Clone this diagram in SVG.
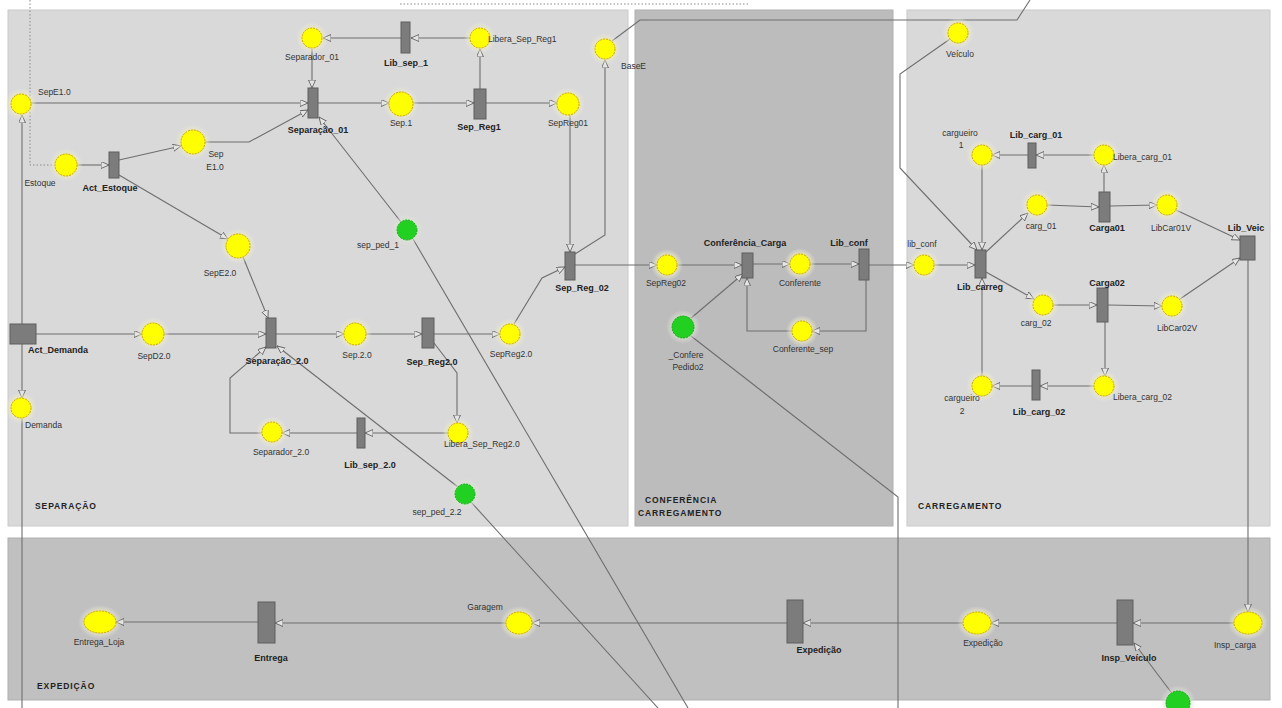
<svg xmlns="http://www.w3.org/2000/svg" width="1282" height="708" viewBox="0 0 1282 708">
  <style>
    .panel-l { fill: #d9d9d9; stroke: #cacaca; stroke-width: 1; }
    .panel-d { fill: #bcbcbc; stroke: #b0b0b0; stroke-width: 1; }
    .arc { fill: none; stroke: #6e6e6e; stroke-width: 1.1; }
    .arc-a { fill: none; stroke: #6e6e6e; stroke-width: 1.1; marker-end: url(#tip); }
    .dot { fill: none; stroke: #8a8a8a; stroke-width: 1; stroke-dasharray: 1.5 2; }
    .halo { fill: url(#glowY); }
    .haloG { fill: url(#glowG); }
    .place { fill: #ffff00; stroke: #c9a400; stroke-width: 1; stroke-dasharray: 2 1; }
    .token { fill: #22d022; stroke: #17a317; stroke-width: 1; stroke-dasharray: 2 1; }
    .trans { fill: #7c7c7c; stroke: #5e5e5e; stroke-width: 1; }
    text { font-family: "Liberation Sans", Arial, sans-serif; }
    .pl { font-size: 8.5px; fill: #333; text-anchor: middle; }
    .pls { font-size: 8.5px; fill: #333; }
    .tl { font-size: 9px; font-weight: bold; fill: #222; text-anchor: middle; }
    .sec { font-size: 8.5px; font-weight: bold; fill: #222; letter-spacing: 0.9px; }
  </style>
  <defs>
    <radialGradient id="glowY">
      <stop offset="0.55" stop-color="#f5ef9a" stop-opacity="0.95"/>
      <stop offset="1" stop-color="#e6e6f0" stop-opacity="0"/>
    </radialGradient>
    <radialGradient id="glowG">
      <stop offset="0.55" stop-color="#c8f0c0" stop-opacity="0.9"/>
      <stop offset="1" stop-color="#f0d8e8" stop-opacity="0"/>
    </radialGradient>
    <marker id="tip" markerUnits="userSpaceOnUse" markerWidth="9" markerHeight="8" refX="8" refY="3.5" orient="auto">
      <path d="M0,0 L8,3.5 L0,7 Z" fill="#e4e4e4" stroke="#555" stroke-width="0.8"/>
    </marker>
  </defs>

  <rect width="1282" height="708" fill="#ffffff"/>

  <!-- process areas -->
  <g id="areas">
    <rect class="panel-l" x="8" y="10" width="620" height="516"/>
    <rect class="panel-d" x="635" y="10" width="258" height="516"/>
    <rect class="panel-l" x="907" y="10" width="363" height="516"/>
    <rect class="panel-d" x="8" y="538" width="1262" height="162" style="fill:#c0c0c0"/>
    <text class="sec" x="35" y="509">SEPARAÇÃO</text>
    <text class="sec" x="645" y="503">CONFERÊNCIA</text>
    <text class="sec" x="638" y="516">CARREGAMENTO</text>
    <text class="sec" x="918" y="509">CARREGAMENTO</text>
    <text class="sec" x="37" y="689">EXPEDIÇÃO</text>
  </g>

  <!-- arcs -->
  <g id="connectors">
    <path class="dot" d="M400,4 L750,4"/>
    <path class="dot" d="M30,0 L30,165 L55,165"/>
    <path class="arc-a" d="M470,38 L411,38"/>
    <path class="arc-a" d="M401,38 L323,38"/>
    <path class="arc-a" d="M312,49 L312,88"/>
    <path class="arc-a" d="M480,89 L480,49"/>
    <path class="arc-a" d="M31,103 L308,103"/>
    <path class="arc-a" d="M22,324 L22,115"/>
    <path class="arc-a" d="M77,165 L109,165"/>
    <path class="arc-a" d="M119,160 L181,146"/>
    <path class="arc-a" d="M205,142 L249,142 L308,110"/>
    <path class="arc-a" d="M119,175 L228,239"/>
    <path class="arc-a" d="M318,103 L389,103"/>
    <path class="arc-a" d="M413,103 L474,103"/>
    <path class="arc-a" d="M486,103 L557,103"/>
    <path class="arc-a" d="M570,115 L570,252"/>
    <path class="arc-a" d="M401,222 L319,117"/>
    <path class="arc" d="M413,239 L688,708"/>
    <path class="arc-a" d="M575,254 L605,235 L605,60"/>
    <path class="arc" d="M612,41 L640,20 L1017,20 L1030,0"/>
    <path class="arc-a" d="M243,257 L268,318"/>
    <path class="arc-a" d="M36,334 L142,334"/>
    <path class="arc-a" d="M164,334 L266,334"/>
    <path class="arc-a" d="M276,334 L344,334"/>
    <path class="arc-a" d="M366,334 L422,334"/>
    <path class="arc-a" d="M434,334 L500,334"/>
    <path class="arc-a" d="M434,343 L457,373 L457,423"/>
    <path class="arc-a" d="M448,433 L365,433"/>
    <path class="arc-a" d="M357,433 L282,433"/>
    <path class="arc-a" d="M262,433 L230,433 L230,378 L266,347"/>
    <path class="arc-a" d="M458,487 L277,346"/>
    <path class="arc" d="M471,502 L658,708"/>
    <path class="arc-a" d="M514,324 L542,278 L565,267"/>
    <path class="arc-a" d="M575,265 L657,265"/>
    <path class="arc-a" d="M677,265 L742,265"/>
    <path class="arc-a" d="M690,319 L743,274"/>
    <path class="arc" d="M691,336 L898,497 L898,708"/>
    <path class="arc-a" d="M753,264 L790,264"/>
    <path class="arc-a" d="M810,264 L859,264"/>
    <path class="arc-a" d="M866,280 L866,331 L812,331"/>
    <path class="arc-a" d="M792,331 L747,331 L747,278"/>
    <path class="arc-a" d="M869,265 L914,265"/>
    <path class="arc-a" d="M934,265 L975,265"/>
    <path class="arc-a" d="M950,39 L900,74 L900,168 L977,250"/>
    <path class="arc-a" d="M982,165 L982,250"/>
    <path class="arc-a" d="M982,376 L982,278"/>
    <path class="arc-a" d="M986,252 L1028,213"/>
    <path class="arc-a" d="M986,272 L1034,299"/>
    <path class="arc-a" d="M1094,155 L1036,155"/>
    <path class="arc-a" d="M1028,155 L992,155"/>
    <path class="arc-a" d="M1104,192 L1104,165"/>
    <path class="arc-a" d="M1047,205 L1099,207"/>
    <path class="arc-a" d="M1110,206 L1157,205"/>
    <path class="arc-a" d="M1176,210 L1240,240"/>
    <path class="arc-a" d="M1053,305 L1097,305"/>
    <path class="arc-a" d="M1108,305 L1162,306"/>
    <path class="arc-a" d="M1180,299 L1240,258"/>
    <path class="arc-a" d="M1105,322 L1105,376"/>
    <path class="arc-a" d="M1094,386 L1040,386"/>
    <path class="arc-a" d="M1032,386 L992,386"/>
    <path class="arc-a" d="M1248,260 L1248,612"/>
    <path class="arc-a" d="M1234,623 L1133,623"/>
    <path class="arc-a" d="M1171,692 L1134,643"/>
    <path class="arc-a" d="M1117,623 L991,623"/>
    <path class="arc-a" d="M963,623 L803,623"/>
    <path class="arc-a" d="M787,623 L532,623"/>
    <path class="arc-a" d="M506,623 L275,623"/>
    <path class="arc-a" d="M258,622 L116,622"/>
    <path class="arc-a" d="M22,344 L22,398"/>
    <path class="arc" d="M22,418 L22,708"/>
  </g>

  <!-- SEPARAÇÃO -->
  <g id="Separador_01"><circle class="halo" cx="312" cy="38" r="16"/><circle class="place" cx="312" cy="38" r="10"/><text class="pl" x="312" y="60">Separador_01</text></g>
  <g id="Lib_sep_1"><rect class="trans" x="401" y="22" width="9" height="31"/><text class="tl" x="406" y="66">Lib_sep_1</text></g>
  <g id="Libera_Sep_Reg1"><circle class="halo" cx="480" cy="38" r="16"/><circle class="place" cx="480" cy="38" r="10"/><text class="pls" x="488" y="42">Libera_Sep_Reg1</text></g>
  <g id="BaseE"><circle class="halo" cx="605" cy="49" r="16"/><circle class="place" cx="605" cy="49" r="10"/><text class="pls" x="621" y="69">BaseE</text></g>
  <g id="SepE1.0"><circle class="halo" cx="21" cy="104" r="16"/><circle class="place" cx="21" cy="104" r="10"/><text class="pls" x="38" y="95">SepE1.0</text></g>
  <g id="Estoque"><circle class="halo" cx="66" cy="165" r="17"/><circle class="place" cx="66" cy="165" r="11"/><text class="pl" x="40" y="186">Estoque</text></g>
  <g id="Act_Estoque"><rect class="trans" x="109" y="152" width="10" height="26"/><text class="tl" x="110" y="191">Act_Estoque</text></g>
  <g id="Sep_E1.0"><circle class="halo" cx="193" cy="142" r="18"/><circle class="place" cx="193" cy="142" r="12"/><text class="pl" x="216" y="157">Sep</text><text class="pl" x="215" y="170">E1.0</text></g>
  <g id="Separacao_01"><rect class="trans" x="308" y="88" width="10" height="30"/><text class="tl" x="318" y="133">Separação_01</text></g>
  <g id="Sep.1"><circle class="halo" cx="401" cy="104" r="18"/><circle class="place" cx="401" cy="104" r="12"/><text class="pl" x="401" y="126">Sep.1</text></g>
  <g id="Sep_Reg1"><rect class="trans" x="474" y="89" width="12" height="30"/><text class="tl" x="479" y="130">Sep_Reg1</text></g>
  <g id="SepReg01"><circle class="halo" cx="568" cy="104" r="17"/><circle class="place" cx="568" cy="104" r="11"/><text class="pl" x="568" y="126">SepReg01</text></g>
  <g id="sep_ped_1"><circle class="haloG" cx="407" cy="230" r="16"/><circle class="token" cx="407" cy="230" r="10"/><text class="pl" x="378" y="248">sep_ped_1</text></g>
  <g id="Sep_Reg_02"><rect class="trans" x="565" y="252" width="10" height="28"/><text class="tl" x="582" y="291">Sep_Reg_02</text></g>
  <g id="SepE2.0"><circle class="halo" cx="238" cy="246" r="18"/><circle class="place" cx="238" cy="246" r="12"/><text class="pl" x="220" y="276">SepE2.0</text></g>
  <g id="Act_Demanda"><rect class="trans" x="10" y="324" width="26" height="20"/><text class="tl" x="58" y="353">Act_Demanda</text></g>
  <g id="SepD2.0"><circle class="halo" cx="153" cy="334" r="17"/><circle class="place" cx="153" cy="334" r="11"/><text class="pl" x="154" y="359">SepD2.0</text></g>
  <g id="Separacao_2.0"><rect class="trans" x="266" y="318" width="10" height="30"/><text class="tl" x="277" y="364">Separação_2.0</text></g>
  <g id="Sep.2.0"><circle class="halo" cx="355" cy="334" r="17"/><circle class="place" cx="355" cy="334" r="11"/><text class="pl" x="357" y="358">Sep.2.0</text></g>
  <g id="Sep_Reg2.0"><rect class="trans" x="422" y="318" width="12" height="30"/><text class="tl" x="432" y="365">Sep_Reg2.0</text></g>
  <g id="SepReg2.0"><circle class="halo" cx="510" cy="334" r="16"/><circle class="place" cx="510" cy="334" r="10"/><text class="pl" x="511" y="357">SepReg2.0</text></g>
  <g id="Libera_Sep_Reg2.0"><circle class="halo" cx="458" cy="433" r="16"/><circle class="place" cx="458" cy="433" r="10"/><text class="pls" x="444" y="447">Libera_Sep_Reg2.0</text></g>
  <g id="Lib_sep_2.0"><rect class="trans" x="357" y="418" width="8" height="30"/><text class="tl" x="370" y="468">Lib_sep_2.0</text></g>
  <g id="Separador_2.0"><circle class="halo" cx="272" cy="432" r="16"/><circle class="place" cx="272" cy="432" r="10"/><text class="pl" x="281" y="455">Separador_2.0</text></g>
  <g id="Demanda"><circle class="halo" cx="21" cy="408" r="16"/><circle class="place" cx="21" cy="408" r="10"/><text class="pls" x="25" y="428">Demanda</text></g>
  <g id="sep_ped_2.2"><circle class="haloG" cx="465" cy="494" r="16"/><circle class="token" cx="465" cy="494" r="10"/><text class="pl" x="437" y="515">sep_ped_2.2</text></g>

  <!-- CONFERÊNCIA -->
  <g id="SepReg02"><circle class="halo" cx="667" cy="265" r="16"/><circle class="place" cx="667" cy="265" r="10"/><text class="pl" x="666" y="286">SepReg02</text></g>
  <g id="Conferencia_Carga"><rect class="trans" x="742" y="253" width="11" height="25"/><text class="tl" x="745" y="246">Conferência_Carga</text></g>
  <g id="Confere_Pedido2"><circle class="haloG" cx="683" cy="327" r="17"/><circle class="token" cx="683" cy="327" r="11"/><text class="pl" x="686" y="358">_Confere</text><text class="pl" x="688" y="370">Pedido2</text></g>
  <g id="Conferente"><circle class="halo" cx="800" cy="264" r="16"/><circle class="place" cx="800" cy="264" r="10"/><text class="pl" x="800" y="286">Conferente</text></g>
  <g id="Lib_conf"><rect class="trans" x="859" y="249" width="10" height="31"/><text class="tl" x="849" y="246">Lib_conf</text></g>
  <g id="Conferente_sep"><circle class="halo" cx="802" cy="331" r="16"/><circle class="place" cx="802" cy="331" r="10"/><text class="pl" x="803" y="352">Conferente_sep</text></g>

  <!-- CARREGAMENTO -->
  <g id="lib_conf"><circle class="halo" cx="924" cy="265" r="16"/><circle class="place" cx="924" cy="265" r="10"/><text class="pl" x="922" y="247">lib_conf</text></g>
  <g id="Lib_carreg"><rect class="trans" x="975" y="250" width="11" height="28"/><text class="tl" x="980" y="290">Lib_carreg</text></g>
  <g id="Veiculo"><circle class="halo" cx="958" cy="33" r="16"/><circle class="place" cx="958" cy="33" r="10"/><text class="pl" x="960" y="57">Veículo</text></g>
  <g id="cargueiro_1"><circle class="halo" cx="982" cy="155" r="16"/><circle class="place" cx="982" cy="155" r="10"/><text class="pl" x="960" y="136">cargueiro</text><text class="pl" x="961" y="148">1</text></g>
  <g id="Lib_carg_01"><rect class="trans" x="1028" y="143" width="8" height="25"/><text class="tl" x="1036" y="138">Lib_carg_01</text></g>
  <g id="Libera_carg_01"><circle class="halo" cx="1104" cy="155" r="16"/><circle class="place" cx="1104" cy="155" r="10"/><text class="pls" x="1113" y="160">Libera_carg_01</text></g>
  <g id="carg_01"><circle class="halo" cx="1037" cy="205" r="16"/><circle class="place" cx="1037" cy="205" r="10"/><text class="pl" x="1041" y="229">carg_01</text></g>
  <g id="Carga01"><rect class="trans" x="1099" y="192" width="11" height="30"/><text class="tl" x="1107" y="231">Carga01</text></g>
  <g id="LibCar01V"><circle class="halo" cx="1167" cy="205" r="16"/><circle class="place" cx="1167" cy="205" r="10"/><text class="pl" x="1171" y="231">LibCar01V</text></g>
  <g id="Lib_Veic"><rect class="trans" x="1240" y="236" width="15" height="24"/><text class="tl" x="1246" y="231">Lib_Veic</text></g>
  <g id="carg_02"><circle class="halo" cx="1043" cy="305" r="16"/><circle class="place" cx="1043" cy="305" r="10"/><text class="pl" x="1036" y="326">carg_02</text></g>
  <g id="Carga02"><rect class="trans" x="1097" y="288" width="11" height="34"/><text class="tl" x="1107" y="286">Carga02</text></g>
  <g id="LibCar02V"><circle class="halo" cx="1172" cy="306" r="16"/><circle class="place" cx="1172" cy="306" r="10"/><text class="pl" x="1177" y="331">LibCar02V</text></g>
  <g id="Libera_carg_02"><circle class="halo" cx="1104" cy="386" r="16"/><circle class="place" cx="1104" cy="386" r="10"/><text class="pls" x="1113" y="400">Libera_carg_02</text></g>
  <g id="Lib_carg_02"><rect class="trans" x="1032" y="370" width="8" height="30"/><text class="tl" x="1039" y="415">Lib_carg_02</text></g>
  <g id="cargueiro_2"><circle class="halo" cx="982" cy="386" r="16"/><circle class="place" cx="982" cy="386" r="10"/><text class="pl" x="962" y="401">cargueiro</text><text class="pl" x="962" y="414">2</text></g>

  <!-- EXPEDIÇÃO -->
  <g id="Insp_carga"><ellipse class="halo" cx="1248" cy="623" rx="20" ry="17"/><ellipse class="place" cx="1248" cy="623" rx="14" ry="11"/><text class="pl" x="1235" y="648">Insp_carga</text></g>
  <g id="Insp_Veiculo"><rect class="trans" x="1117" y="600" width="16" height="45"/><text class="tl" x="1129" y="661">Insp_Veículo</text></g>
  <g id="frota"><circle class="haloG" cx="1178" cy="703" r="18"/><circle class="token" cx="1178" cy="703" r="12"/></g>
  <g id="Expedicao_lugar"><ellipse class="halo" cx="977" cy="623" rx="20" ry="17"/><ellipse class="place" cx="977" cy="623" rx="14" ry="11"/><text class="pl" x="983" y="646">Expedição</text></g>
  <g id="Expedicao"><rect class="trans" x="787" y="600" width="16" height="43"/><text class="tl" x="819" y="653">Expedição</text></g>
  <g id="Garagem"><ellipse class="halo" cx="519" cy="623" rx="19" ry="17"/><ellipse class="place" cx="519" cy="623" rx="13" ry="11"/><text class="pl" x="485" y="610">Garagem</text></g>
  <g id="Entrega"><rect class="trans" x="258" y="602" width="17" height="41"/><text class="tl" x="271" y="661">Entrega</text></g>
  <g id="Entrega_Loja"><ellipse class="halo" cx="100" cy="622" rx="22" ry="17"/><ellipse class="place" cx="100" cy="622" rx="16" ry="11"/><text class="pl" x="99" y="645">Entrega_Loja</text></g>
</svg>
